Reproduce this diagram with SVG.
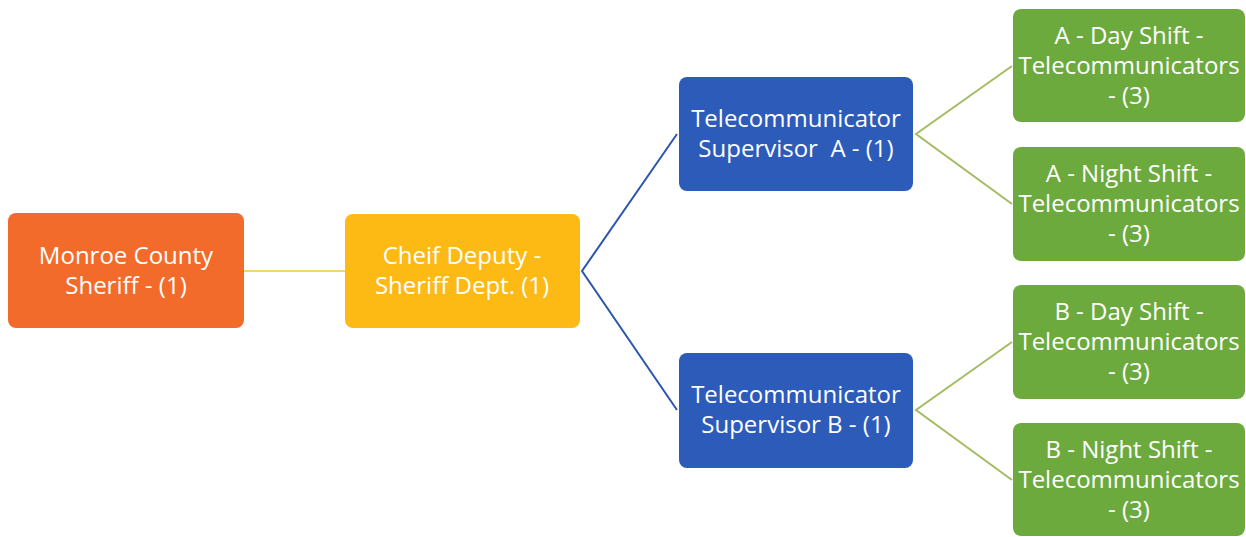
<svg xmlns="http://www.w3.org/2000/svg" width="1246" height="537" viewBox="0 0 1246 537">
<style>
.t{font-family:"Open Sans","Liberation Sans",sans-serif;font-size:24px;fill:#ffffff;text-anchor:middle}
.c{fill:none;stroke-width:2}
</style>
<rect width="1246" height="537" fill="#ffffff"/>
<g id="connectors">
<line class="c" x1="244" y1="271" x2="345" y2="271" stroke="#F3D46E"/>
<polyline class="c" points="677,134 582,271 677,410" stroke="#2C56AE"/>
<polyline class="c" points="1012,66 916,134 1012,204" stroke="#A3BC63"/>
<polyline class="c" points="1012,342 916,410 1012,480" stroke="#A3BC63"/>
</g>
<g id="sheriff">
<rect x="8" y="213" width="236" height="115" rx="8" fill="#F36B2B"/>
<text class="t" x="126" y="264">Monroe County</text>
<text class="t" x="126" y="294">Sheriff - (1)</text>
</g>
<g id="chief">
<rect x="345" y="214" width="235" height="114" rx="8" fill="#FDB914"/>
<text class="t" x="462" y="264">Cheif Deputy -</text>
<text class="t" x="462" y="294">Sheriff Dept. (1)</text>
</g>
<g id="supA">
<rect x="679" y="77" width="234" height="114" rx="8" fill="#2C5BB9"/>
<text class="t" x="796" y="127">Telecommunicator</text>
<text class="t" x="796" y="157" xml:space="preserve">Supervisor  A - (1)</text>
</g>
<g id="supB">
<rect x="679" y="353" width="234" height="115" rx="8" fill="#2C5BB9"/>
<text class="t" x="796" y="403">Telecommunicator</text>
<text class="t" x="796" y="433">Supervisor B - (1)</text>
</g>
<g id="aDay">
<rect x="1013" y="9" width="232" height="113" rx="8" fill="#6DAA3E"/>
<text class="t" x="1129" y="44">A - Day Shift -</text>
<text class="t" x="1129" y="74">Telecommunicators</text>
<text class="t" x="1129" y="104">- (3)</text>
</g>
<g id="aNight">
<rect x="1013" y="147" width="232" height="114" rx="8" fill="#6DAA3E"/>
<text class="t" x="1129" y="182">A - Night Shift -</text>
<text class="t" x="1129" y="212">Telecommunicators</text>
<text class="t" x="1129" y="242">- (3)</text>
</g>
<g id="bDay">
<rect x="1013" y="285" width="232" height="114" rx="8" fill="#6DAA3E"/>
<text class="t" x="1129" y="320">B - Day Shift -</text>
<text class="t" x="1129" y="350">Telecommunicators</text>
<text class="t" x="1129" y="380">- (3)</text>
</g>
<g id="bNight">
<rect x="1013" y="423" width="232" height="113" rx="8" fill="#6DAA3E"/>
<text class="t" x="1129" y="458">B - Night Shift -</text>
<text class="t" x="1129" y="488">Telecommunicators</text>
<text class="t" x="1129" y="518">- (3)</text>
</g>
</svg>
